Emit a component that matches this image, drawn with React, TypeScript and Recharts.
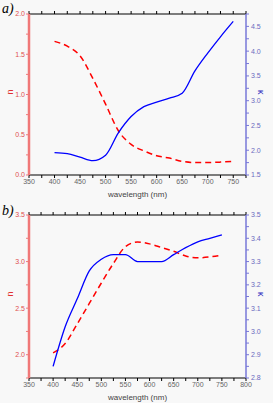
import React from 'react';
import { ComposedChart, Line, XAxis, YAxis, Label } from 'recharts';

const wavelengths = [400, 425, 450, 475, 500, 525, 550, 575, 600, 625, 650, 675, 700, 725, 750];

// panel a
const nA = [1.66, 1.6, 1.48, 1.2, 0.88, 0.55, 0.38, 0.3, 0.24, 0.21, 0.17, 0.155, 0.155, 0.16, 0.17];
const kA = [1.95, 1.93, 1.86, 1.79, 1.9, 2.35, 2.68, 2.88, 2.97, 3.05, 3.15, 3.6, 3.96, 4.29, 4.6];

// panel b
const nB = [2.02, 2.12, 2.33, 2.55, 2.77, 2.98, 3.16, 3.21, 3.19, 3.15, 3.11, 3.06, 3.04, 3.05, 3.07];
const kB = [2.85, 3.02, 3.14, 3.26, 3.31, 3.33, 3.33, 3.3, 3.3, 3.3, 3.33, 3.36, 3.385, 3.4, 3.415];

const xTicksA = [350, 375, 400, 425, 450, 475, 500, 525, 550, 575, 600, 625, 650, 675, 700, 725, 750, 775];
const xTicksB = [350, 375, 400, 425, 450, 475, 500, 525, 550, 575, 600, 625, 650, 675, 700, 725, 750, 775, 800];
const nTicksA = [0, 0.25, 0.5, 0.75, 1, 1.25, 1.5, 1.75, 2];
const kTicksA = [1.5, 1.75, 2, 2.25, 2.5, 2.75, 3, 3.25, 3.5, 3.75, 4, 4.25, 4.5, 4.75];
const nTicksB = [1.75, 2, 2.25, 2.5, 2.75, 3, 3.25, 3.5];
const kTicksB = [2.8, 2.85, 2.9, 2.95, 3, 3.05, 3.1, 3.15, 3.2, 3.25, 3.3, 3.35, 3.4, 3.45, 3.5];

const dataA = wavelengths.map((w, i) => ({ w, n: nA[i], k: kA[i] }));
const dataB = wavelengths.map((w, i) => ({ w, n: nB[i], k: kB[i] }));

const FONT = '"Liberation Sans", Arial, sans-serif';
const RED_AXIS = '#f07878';
const BLUE_AXIS = '#7878d8';

const fmtX = (v: number) => (v % 50 === 0 ? String(v) : '');
const fmtHalf = (v: number) => (Math.abs(v * 2 - Math.round(v * 2)) < 1e-6 ? v.toFixed(1) : '');
const fmtTenth = (v: number) => (Math.abs(v * 10 - Math.round(v * 10)) < 1e-6 ? v.toFixed(1) : '');

type PanelProps = {
  data: { w: number; n: number; k: number }[];
  height: number;
  top: number;
  xDomain: [number, number];
  xTicks: number[];
  nDomain: [number, number];
  nTicks: number[];
  kDomain: [number, number];
  kTicks: number[];
  kFmt: (v: number) => string;
};

const Panel = ({ data, height, top, xDomain, xTicks, nDomain, nTicks, kDomain, kTicks, kFmt }: PanelProps) => (
  <ComposedChart width={273} height={height} data={data} margin={{ top: top - 8, right: 0, bottom: 0, left: 0 }}>
    <XAxis
      xAxisId="bottom"
      dataKey="w"
      type="number"
      domain={xDomain}
      ticks={xTicks}
      tickFormatter={fmtX}
      height={25}
      tickSize={3}
      tickMargin={1}
      stroke="#000"
      tick={{ fontSize: 7, fill: '#666', fontFamily: FONT }}
    >
      <Label value="wavelength (nm)" position="insideBottom" offset={3} style={{ fontSize: 8, fill: '#444', fontFamily: FONT }} />
    </XAxis>
    <XAxis
      xAxisId="top"
      dataKey="w"
      type="number"
      orientation="top"
      domain={xDomain}
      ticks={xTicks}
      tickFormatter={() => ''}
      height={8}
      tickSize={3}
      stroke="#000"
      axisLine={{ stroke: '#000', strokeWidth: 1 }}
    />
    <YAxis
      yAxisId="n"
      type="number"
      domain={nDomain}
      ticks={nTicks}
      tickFormatter={fmtHalf}
      width={29}
      tickSize={3}
      tickMargin={1}
      stroke={RED_AXIS}
      axisLine={{ stroke: RED_AXIS, strokeWidth: 2.5 }}
      tick={{ fontSize: 7, fill: '#e05050', fontFamily: FONT }}
    >
      <Label value="n" angle={-90} position="insideLeft" offset={10} style={{ fontSize: 9, fill: '#e03030', fontFamily: FONT }} />
    </YAxis>
    <YAxis
      yAxisId="k"
      orientation="right"
      type="number"
      domain={kDomain}
      ticks={kTicks}
      tickFormatter={kFmt}
      width={27}
      tickSize={3}
      tickMargin={2}
      stroke={BLUE_AXIS}
      axisLine={{ stroke: BLUE_AXIS, strokeWidth: 1.5 }}
      tick={{ fontSize: 7, fill: '#6a6ac0', fontFamily: FONT }}
    >
      <Label value="κ" angle={90} position="insideRight" offset={12} style={{ fontSize: 9, fill: '#3030c0', fontFamily: FONT }} />
    </YAxis>
    <Line
      xAxisId="top"
      yAxisId="n"
      type="monotone"
      dataKey="n"
      stroke="#ff0000"
      strokeWidth={1.5}
      strokeDasharray="6 4"
      dot={false}
      isAnimationActive={false}
    />
    <Line
      xAxisId="bottom"
      yAxisId="k"
      type="monotone"
      dataKey="k"
      stroke="#0000ff"
      strokeWidth={1.3}
      dot={false}
      isAnimationActive={false}
    />
  </ComposedChart>
);

const tagStyle: React.CSSProperties = {
  position: 'absolute',
  left: 2,
  fontFamily: '"Liberation Serif", "Times New Roman", serif',
  fontStyle: 'italic',
  fontSize: 14,
  lineHeight: '14px',
  color: '#000',
};

const App = () => (
  <div style={{ position: 'absolute', left: 0, top: 0, width: 273, height: 403, background: '#f8f8f8' }}>
    <div style={{ position: 'absolute', left: 0, top: 0 }}>
      <Panel
        data={dataA}
        height={200}
        top={14}
        xDomain={[350, 775]}
        xTicks={xTicksA}
        nDomain={[0, 2]}
        nTicks={nTicksA}
        kDomain={[1.5, 4.75]}
        kTicks={kTicksA}
        kFmt={fmtHalf}
      />
    </div>
    <div style={{ position: 'absolute', left: 0, top: 200 }}>
      <Panel
        data={dataB}
        height={203}
        top={15}
        xDomain={[350, 800]}
        xTicks={xTicksB}
        nDomain={[1.75, 3.5]}
        nTicks={nTicksB}
        kDomain={[2.8, 3.5]}
        kTicks={kTicksB}
        kFmt={fmtTenth}
      />
    </div>
    <div style={{ ...tagStyle, top: 2 }}>a)</div>
    <div style={{ ...tagStyle, top: 204 }}>b)</div>
  </div>
);

export default App;
